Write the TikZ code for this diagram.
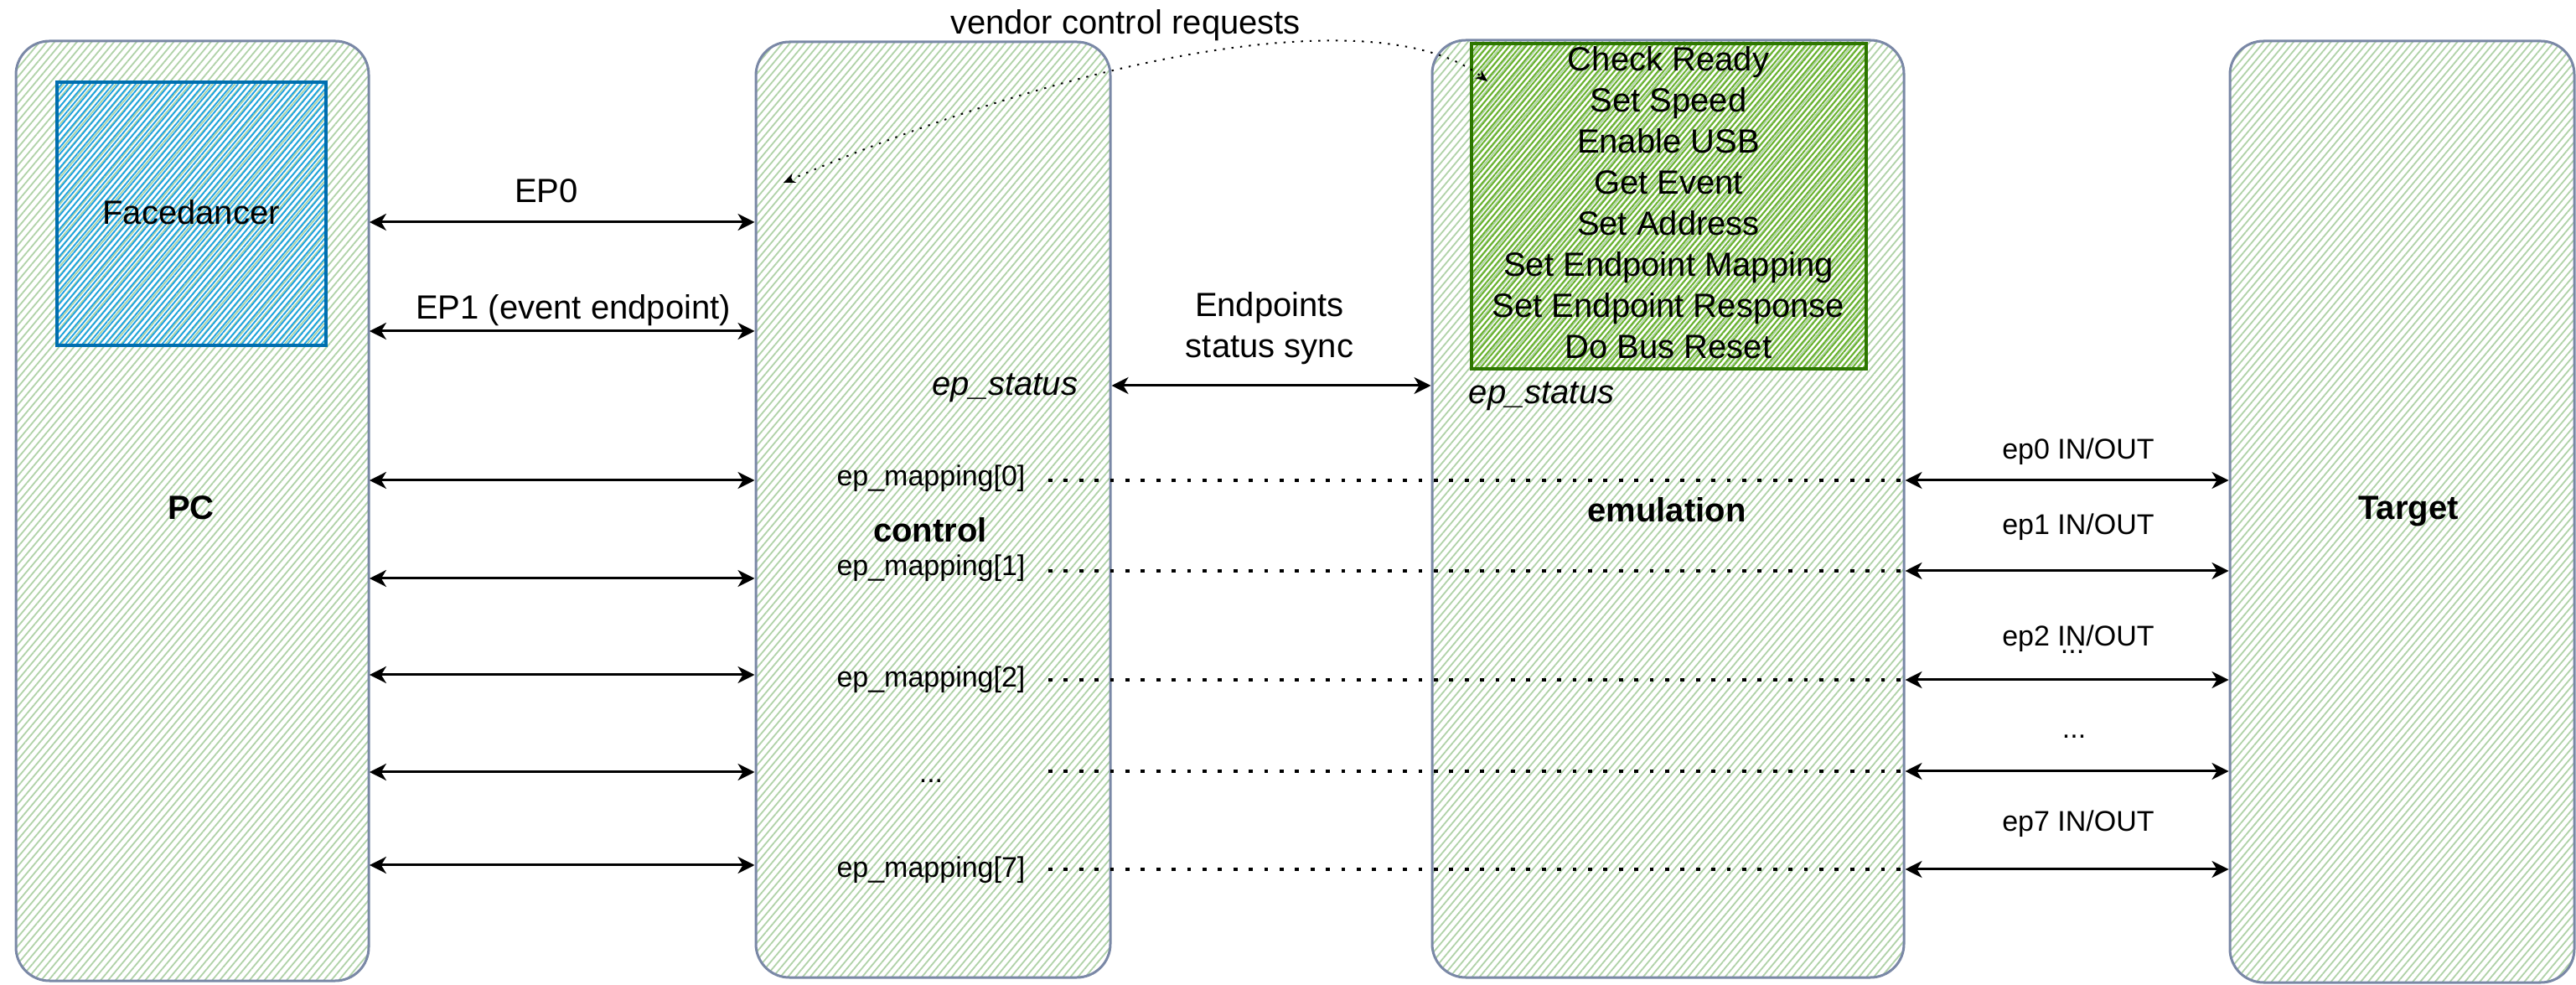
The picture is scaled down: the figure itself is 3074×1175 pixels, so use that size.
\documentclass[tikz,border=0pt]{standalone}
\usepackage{fontspec}
\setmainfont{Liberation Sans}
\usetikzlibrary{arrows.meta,patterns.meta,fit}
\definecolor{boxline}{RGB}{122,136,166}
\definecolor{hatch}{RGB}{176,210,168}
\definecolor{ghatch}{RGB}{105,178,45}
\definecolor{gline}{RGB}{45,118,0}
\definecolor{bhatch}{RGB}{27,161,226}
\definecolor{bline}{RGB}{0,110,175}
\begin{document}
\begin{tikzpicture}[x=0.25pt,y=-0.25pt,
  panel/.style={draw=boxline, line width=0.75pt, rounded corners=10pt, inner sep=0pt,
    pattern={Lines[angle=50,distance=1.7pt,line width=0.45pt]}, pattern color=hatch},
  greenbox/.style={draw=gline, line width=1pt, inner sep=0pt,
    pattern={Lines[angle=50,distance=1.25pt,line width=0.5pt]}, pattern color=ghatch},
  bluebox/.style={draw=bline, line width=1pt, inner sep=0pt,
    pattern={Lines[angle=50,distance=1.3pt,line width=0.45pt]}, pattern color=bhatch},
  lbl/.style={font=\fontsize{10}{12}\selectfont, inner sep=0pt},
  ilbl/.style={font=\fontsize{10}{12}\selectfont\itshape, inner sep=0pt},
  slbl/.style={font=\fontsize{8.5}{10}\selectfont, inner sep=0pt},
  blbl/.style={font=\fontsize{10}{12}\selectfont\bfseries, inner sep=0pt},
  biarrow/.style={line width=0.75pt,
    arrows={Stealth[length=5pt,width=5pt,inset=1.5pt]-Stealth[length=5pt,width=5pt,inset=1.5pt]}},
  vendor/.style={line width=0.5pt, dash pattern=on 0.6pt off 2pt,
    arrows={Stealth[length=3.5pt,width=3pt]-Stealth[length=3.5pt,width=3pt]}},
  mapdot/.style={line width=1.2pt, dash pattern=on 1.2pt off 3.4pt}
]
\useasboundingbox (0,0) rectangle (3074,1175);

% panels
\node[panel, fit={(19,49) (440,1170)}] (pc) {};
\node[panel, fit={(902,50) (1325,1166)}] (ctrl) {};
\node[panel, fit={(1709,48) (2272,1166)}] (emu) {};
\node[panel, fit={(2661,49) (3072,1172)}] (tgt) {};
\node[bluebox, fit={(68,98) (389,412)}] (fd) {};
\node[greenbox, fit={(1756,52) (2227,440)}] (req) {};

% panel labels
\node[lbl] (fdt) at (228,253) {Facedancer};
\node[blbl] (pct) at (228,606) {PC};
\node[blbl] (ctt) at (1110,632) {control};
\node[blbl] (emt) at (1989,608) {emulation};
\node[blbl] (tgtt) at (2874,610) {Target};
\node[font=\fontsize{10}{12.25}\selectfont, align=center, inner sep=0pt] (reqt) at (1991,242)
  {Check Ready\\Set Speed\\Enable USB\\Get Event\\Set Address\\Set Endpoint Mapping\\Set Endpoint Response\\Do Bus Reset};

% rows
\coordinate (a0) at (0,265);
\coordinate (a1) at (0,395);
\coordinate (l0) at (0,573);
\coordinate (l1) at (0,690);
\coordinate (l2) at (0,805);
\coordinate (l3) at (0,921);
\coordinate (l4) at (0,1032);
\coordinate (st) at (0,460);
\coordinate (r0) at (0,573);
\coordinate (r1) at (0,681);
\coordinate (r2) at (0,811);
\coordinate (r3) at (0,920);
\coordinate (r4) at (0,1037);
\coordinate (dx) at (1251,0);

% PC <-> control
\draw[biarrow] (pc.east |- a0) -- (ctrl.west |- a0);
\draw[biarrow] (pc.east |- a1) -- (ctrl.west |- a1);
\foreach \r in {l0,l1,l2,l3,l4}
  \draw[biarrow] (pc.east |- \r) -- (ctrl.west |- \r);
\node[lbl] (ep0) at (652,228) {EP0};
\node[lbl] (ep1) at (684,370) {EP1 (event endpoint)};

% status sync
\draw[biarrow] (ctrl.east |- st) -- (emu.west |- st);
\node[lbl, align=center, font=\fontsize{10}{12.25}\selectfont] (sync) at (1515,392) {Endpoints\\status sync};
\node[ilbl, anchor=east] (cst) at (1287,463) {ep\_status};
\node[ilbl, anchor=west] (est) at (1752,473) {ep\_status};

% vendor control requests
\coordinate (vc1) at (935,218);
\coordinate (vc2) at (1775,97);
\draw[vendor] (vc1) .. controls (1300,60) and (1650,0) .. (vc2);
\node[lbl] (vcr) at (1343,30) {vendor control requests};

% ep mappings
\node[slbl] (m0) at (1111,571) {ep\_mapping[0]};
\node[slbl] (m1) at (1111,678) {ep\_mapping[1]};
\node[slbl] (m2) at (1111,811) {ep\_mapping[2]};
\node[slbl, anchor=base] (m3) at (1111,933) {...};
\node[slbl] (m7) at (1111,1038) {ep\_mapping[7]};
\foreach \r in {r0,r1,r2,r3,r4}
  \draw[mapdot] (dx |- \r) -- (emu.east |- \r);

% emulation <-> target
\foreach \r in {r0,r1,r2,r3,r4}
  \draw[biarrow] (emu.east |- \r) -- (tgt.west |- \r);
\node[slbl] (t0) at (2480,539) {ep0 IN/OUT};
\node[slbl] (t1) at (2480,629) {ep1 IN/OUT};
\node[slbl] (t2) at (2480,762) {ep2 IN/OUT};
\node[slbl, anchor=base] (t2d) at (2473,780) {...};
\node[slbl, anchor=base] (t3) at (2475,881) {...};
\node[slbl] (t7) at (2480,983) {ep7 IN/OUT};
\end{tikzpicture}
\end{document}
